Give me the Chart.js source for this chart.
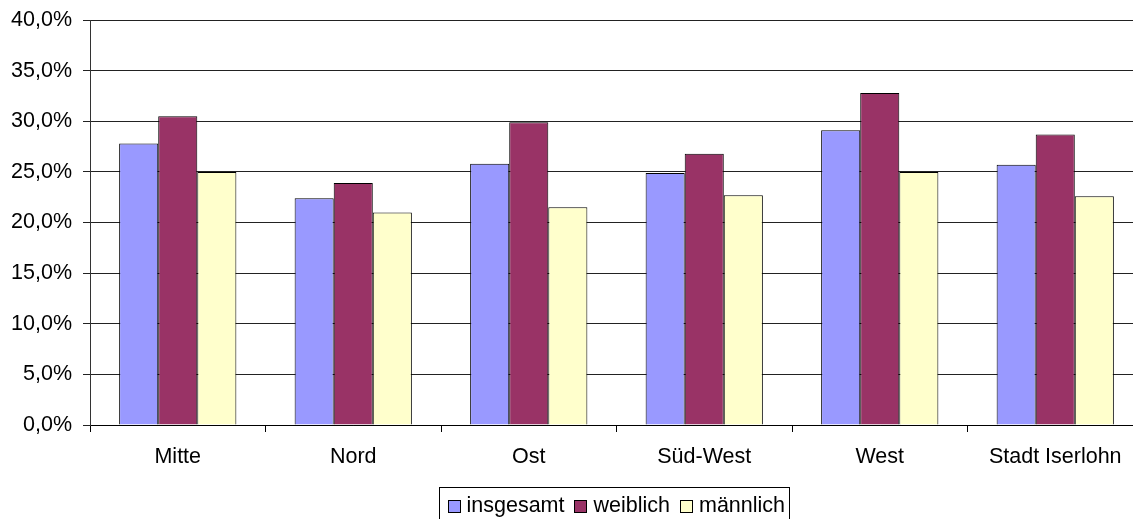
<!DOCTYPE html>
<html>
<head>
<meta charset="utf-8">
<script src="https://cdn.jsdelivr.net/npm/chart.js@4"></script>
<style>
  html, body { margin: 0; padding: 0; background: #fff; overflow: hidden; }
  #wrap { position: relative; width: 1143px; height: 519px; }
</style>
</head>
<body>
<div id="wrap"><canvas id="chart"></canvas></div>
<script>
// Anteile je Stadtteil (in Prozent)
const categories = ['Mitte', 'Nord', 'Ost', 'Süd-West', 'West', 'Stadt Iserlohn'];
const insgesamt = [27.8, 22.4, 25.8, 24.9, 29.1, 25.7];
const weiblich  = [30.5, 23.9, 29.9, 26.8, 32.8, 28.7];
const maennlich = [25.0, 21.0, 21.5, 22.7, 25.0, 22.6];
const seriesNames = ['insgesamt', 'weiblich', 'männlich'];
const yTickLabels = ['0,0%', '5,0%', '10,0%', '15,0%', '20,0%', '25,0%', '30,0%', '35,0%', '40,0%'];

const FONT = '"Liberation Sans", Arial, sans-serif';
const FONT_SIZE = 21.5;

// Boxed legend centred under the plot area
const boxedLegend = {
  id: 'boxedLegend',
  afterDraw(chart) {
    const ctx = chart.ctx;
    const area = chart.chartArea;
    ctx.save();
    ctx.font = FONT_SIZE + 'px ' + FONT;
    ctx.textBaseline = 'middle';
    const sq = 13, gapText = 6, gapItem = 10, padL = 8, padR = 4;
    const items = chart.data.datasets.map(ds => ({
      label: ds.label, color: ds.backgroundColor, w: ctx.measureText(ds.label).width
    }));
    let total = padL + padR;
    items.forEach((it, i) => { total += sq + gapText + it.w + (i < items.length - 1 ? gapItem : 0); });
    const cx = (area.left + area.right) / 2 - 3;
    const left = Math.round(cx - total / 2) + 0.5;
    const top = 487.5;
    const cy = 506;
    ctx.strokeStyle = '#000';
    ctx.lineWidth = 1;
    ctx.strokeRect(left, top, Math.round(total), 40);
    let x = left + padL;
    items.forEach(it => {
      ctx.fillStyle = it.color;
      ctx.fillRect(Math.round(x), Math.round(cy - sq / 2), sq, sq);
      ctx.strokeStyle = '#000';
      ctx.strokeRect(Math.round(x) + 0.5, Math.round(cy - sq / 2) + 0.5, sq - 1, sq - 1);
      x += sq + gapText;
      ctx.fillStyle = '#000';
      ctx.textAlign = 'left';
      ctx.fillText(it.label, x, cy);
      x += it.w + gapItem;
    });
    ctx.restore();
  }
};

new Chart(document.getElementById('chart'), {
  type: 'bar',
  data: {
    labels: categories,
    datasets: [
      { label: seriesNames[0], data: insgesamt, backgroundColor: '#9999FF' },
      { label: seriesNames[1], data: weiblich,  backgroundColor: '#993366' },
      { label: seriesNames[2], data: maennlich, backgroundColor: '#FFFFCC' }
    ]
  },
  options: {
    responsive: true,
    maintainAspectRatio: false,
    animation: false,
    devicePixelRatio: 1,
    datasets: {
      bar: {
        borderColor: '#000',
        borderWidth: 1,
        categoryPercentage: 0.668,
        barPercentage: 1
      }
    },
    layout: { padding: { left: 0, right: 0, top: 20, bottom: 44 } },
    plugins: {
      legend: { display: false },
      tooltip: { enabled: false }
    },
    scales: {
      x: {
        afterFit(scale) { scale.height = 50; },
        grid: {
          display: true,
          drawOnChartArea: false,
          drawTicks: true,
          tickLength: 7,
          color: '#000',
          offset: true
        },
        border: { display: true, color: '#000', width: 1 },
        ticks: {
          color: '#000',
          font: { family: FONT, size: FONT_SIZE },
          padding: 12,
          maxRotation: 0,
          autoSkip: false
        }
      },
      y: {
        min: 0,
        max: 40,
        afterFit(scale) {
          scale.width = 90;
          scale.paddingTop = 0;
          scale.paddingBottom = 0;
        },
        grid: {
          color: '#222',
          lineWidth: 1,
          drawTicks: true,
          tickLength: 7
        },
        border: { display: true, color: '#333', width: 1 },
        ticks: {
          stepSize: 5,
          color: '#000',
          padding: 11,
          font: { family: FONT, size: FONT_SIZE },
          callback: (value, index) => yTickLabels[index]
        }
      }
    }
  },
  plugins: [boxedLegend]
});
</script>
</body>
</html>
